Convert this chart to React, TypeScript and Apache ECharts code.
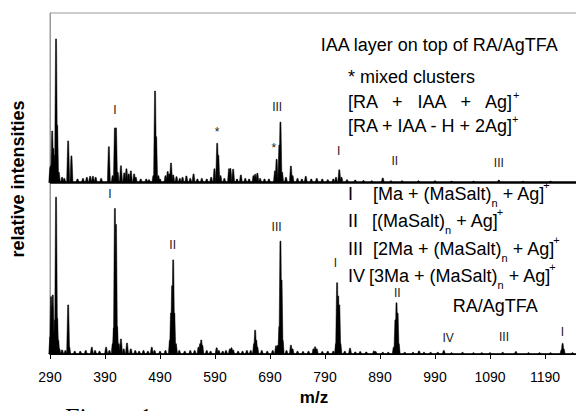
import React, { useEffect, useRef } from "react";
import * as echarts from "echarts";

const FONT = '"Liberation Sans", Arial, Helvetica, sans-serif';
const SERIF = '"Liberation Serif", "Times New Roman", serif';

const X_MIN = 290;
const X_MAX = 1250;
const xTickValues = [290, 390, 490, 590, 690, 790, 890, 990, 1090, 1190];

// vertical offset (in intensity units) of the upper spectrum
const UPPER_OFFSET = 50.3;

// Upper spectrum: IAA layer on top of RA/AgTFA  [m/z, relative intensity]
const upperPeaks: number[][] = [
  [290.5, 4.5], [292, 5], [294, 15.1], [296, 10], [299, 8], [301, 42.1], [303, 16.8], [306, 3],
  [312, 1.5], [316, 1.2], [323, 12.2], [329, 7.8], [340, 1], [350, 1.2], [357, 1.5], [363, 1.8],
  [368, 1.8], [373, 1.5], [383, 1.2], [397, 10.5], [404, 2], [408, 16], [410, 16], [413, 3],
  [419, 4.9], [425, 2.8], [429, 4], [433, 2.5], [437, 3.4], [443, 2.5], [446, 1.5], [455, 1],
  [465, 1], [470, 0.8], [478, 2], [481, 26.8], [483, 13.4], [487, 2], [490, 1], [500, 2],
  [504, 3.2], [507, 2.5], [510, 5.7], [514, 2.2], [520, 1.7], [526, 1.2], [531, 1.5], [538, 1.9],
  [545, 1.2], [551, 2.5], [558, 1], [566, 1.2], [575, 1], [583, 1.5], [589, 4], [594, 11.5],
  [596, 8], [600, 2], [607, 1.2], [615.5, 4], [618, 4.1], [623, 3.9], [630, 1], [637, 2.2],
  [645, 1.2], [652, 1], [660, 2], [663, 2.4], [667, 2.7], [672, 1.2], [680, 1], [688, 1],
  [699, 3.4], [702, 6.8], [707, 11], [709, 17.7], [712, 3], [719, 1.5], [728, 4.8], [731, 2],
  [740, 1.2], [748, 1], [755, 1.8], [765, 1], [775, 1.2], [785, 1], [795, 0.8], [805, 1],
  [810, 1.5], [816, 3.7], [820, 1.5], [830, 0.8], [845, 0.7], [860, 0.6], [875, 0.5], [895, 1.3],
  [910, 0.5], [930, 0.5], [960, 0.5], [990, 0.5], [1020, 0.4], [1060, 0.4], [1106, 0.7],
  [1150, 0.4], [1200, 0.4],
];

// Lower spectrum: RA/AgTFA  [m/z, relative intensity]
const lowerPeaks: number[][] = [
  [290.5, 5], [292, 16.8], [294, 14], [295, 17.3], [297, 6], [299, 10], [301, 46], [303, 10.5],
  [305, 4], [307, 1.5], [312, 1.2], [318, 1], [323, 14.4], [325, 2], [335, 0.8], [345, 0.8],
  [355, 1], [366, 2], [372, 1], [380, 0.8], [392, 2], [398, 1], [404, 3], [406, 7.6],
  [408, 42.7], [410, 38], [412, 8], [415, 3], [419, 4.4], [424, 1.5], [430, 3.2], [437, 1.5],
  [445, 1], [452, 0.8], [460, 1], [468, 0.8], [475, 2], [480, 1], [490, 0.8], [500, 1],
  [508, 4], [510, 12], [512, 20], [514, 27.6], [516, 12], [519, 3], [525, 1], [535, 0.8],
  [545, 1], [553, 1], [560, 2], [563, 3], [565, 4.1], [567, 2.5], [575, 1], [582, 0.8],
  [593, 1.8], [597, 1], [604, 0.8], [610, 1], [617, 1.5], [620, 1.8], [623, 1.2], [632, 0.8],
  [640, 0.8], [648, 1], [655, 1], [661, 3], [663, 7], [665, 4], [667, 2], [675, 1],
  [685, 0.8], [695, 1], [701, 2.4], [704, 2.5], [707, 8], [709, 33.1], [711, 21.7], [713, 4],
  [720, 1], [728, 2.6], [731, 1.5], [740, 0.8], [750, 0.7], [760, 0.8], [769, 1.5], [772, 2.1],
  [775, 1.5], [785, 0.7], [795, 0.8], [805, 0.8], [810, 3], [812, 20.9], [814, 17], [816, 14.4],
  [818, 3], [826, 0.8], [835.5, 1.7], [845, 0.6], [854, 0.7], [865, 0.6], [879, 0.9], [882, 0.7],
  [895, 0.5], [905, 0.5], [915, 2], [918, 10], [920, 15], [922, 12], [924, 3], [935, 0.5],
  [950, 0.5], [961, 0.9], [970, 0.5], [982, 0.5], [995, 0.5], [1006, 1], [1020, 0.4], [1040, 0.5],
  [1060, 0.4], [1075, 0.4], [1090, 0.4], [1113, 0.5], [1137, 0.7], [1160, 0.4], [1180, 0.4],
  [1200, 0.4], [1220, 1.2], [1222, 3.1], [1224, 1.5], [1240, 0.4],
];

// Peak assignment labels  [m/z, height on plot, text]
const peakLabels: (number | string)[][] = [
  [408, 71.6, "I"], [594, 65.2, "*"], [697, 60.5, "*"], [703, 72.3, "III"],
  [815, 59.6, "I"], [917, 56.7, "II"], [1106, 56, "III"],
  [399, 46.9, "I"], [513, 32.1, "II"], [702, 37.3, "III"], [809, 26.8, "I"],
  [921.5, 17.8, "II"], [1014, 4.6, "IV"], [1115.5, 4.9, "III"], [1221.5, 6.5, "I"],
];

const upperLegend = ["IAA layer on top of RA/AgTFA", "* mixed clusters", "[RA   +   IAA   +   Ag]", "[RA + IAA - H + 2Ag]"];
const lowerNumerals = ["I", "II", "III", "IV"];
const lowerFormulas = ["[Ma + (MaSalt)", "[(MaSalt)", "[2Ma + (MaSalt)", "[3Ma + (MaSalt)"];

const txt = (x: number, y: number, text: string, extra: any = {}) => ({
  type: "text",
  x,
  y,
  silent: true,
  style: {
    text,
    fontSize: 18,
    fontFamily: FONT,
    fill: "#000",
    align: "left",
    verticalAlign: "middle",
    textAlign: "left",
    textVerticalAlign: "middle",
    ...extra,
  },
});

const richStyles = (L: number) => ({
  n: { fontSize: 18, fontFamily: FONT, fill: "#000", color: "#000", lineHeight: L, verticalAlign: "middle" },
  s: { fontSize: 11, fontFamily: FONT, fill: "#000", color: "#000", lineHeight: 11, verticalAlign: "top", padding: [0, 0, 0, -2] },
  b: { fontSize: 11, fontFamily: FONT, fill: "#000", color: "#000", lineHeight: 11, verticalAlign: "bottom" },
});

export default function App() {
  const ref = useRef<HTMLDivElement>(null);
  useEffect(() => {
    if (!ref.current) return;
    const chart = echarts.init(ref.current, undefined, { renderer: "svg" });

    const renderPeak = (params: any, api: any) => {
      const mz = api.value(0);
      const h = api.value(1);
      const base = api.value(2);
      const p0 = api.coord([mz, base]);
      const p1 = api.coord([mz, base + h]);
      const hw = 1.5;
      return {
        type: "polygon",
        shape: {
          points: [
            [p0[0] - hw, p0[1]],
            [p1[0] - 0.5, p1[1]],
            [p1[0] + 0.5, p1[1]],
            [p0[0] + hw, p0[1]],
          ],
        },
        style: { fill: "#000", stroke: "#000", lineWidth: 0.5 },
      };
    };

    const renderLabel = (params: any, api: any) => {
      const p = api.coord([api.value(0), api.value(1)]);
      return {
        type: "text",
        x: p[0],
        y: p[1],
        style: {
          text: peakLabels[params.dataIndex][2],
          fill: "#222",
          fontSize: 12,
          fontFamily: FONT,
          align: "center",
          verticalAlign: "middle",
        },
      };
    };

    const lowerRich = richStyles(29);
    const upperRich = richStyles(26);

    const graphics: any[] = [
      txt(320.7, 44.5, upperLegend[0]),
      txt(348, 77, upperLegend[1]),
      txt(348, 102, `{n|${upperLegend[2]}}{s|+}`, { rich: upperRich }),
      txt(348, 126, `{n|${upperLegend[3]}}{s|+}`, { rich: upperRich }),
    ];
    const lowerYs = [193.8, 220.5, 248.8, 276.3];
    const formulaXs = [373, 372, 373, 369];
    lowerNumerals.forEach((n, i) => graphics.push(txt(348, lowerYs[i], n)));
    lowerFormulas.forEach((f, i) =>
      graphics.push(txt(formulaXs[i], lowerYs[i], `{n|${f}}{b|n}{n| + Ag]}{s|+}`, { rich: lowerRich }))
    );
    graphics.push(txt(452.7, 306.3, "RA/AgTFA"));
    graphics.push({
      type: "text",
      x: 18,
      y: 179,
      rotation: Math.PI / 2,
      silent: true,
      style: {
        text: "relative intensities",
        fontSize: 18,
        fontWeight: "bold",
        fontFamily: FONT,
        fill: "#000",
        align: "center",
        verticalAlign: "middle",
        textAlign: "center",
        textVerticalAlign: "middle",
      },
    });
    graphics.push(txt(65, 417, "Figure 1", { fontSize: 26, fontFamily: SERIF }));

    chart.setOption({
      animation: false,
      grid: {
        left: 50,
        right: 2,
        top: 13,
        bottom: 57,
        show: true,
        borderColor: "#999",
        borderWidth: 1,
        backgroundColor: "transparent",
      },
      xAxis: {
        type: "value",
        min: X_MIN,
        max: X_MAX,
        name: "m/z",
        nameLocation: "middle",
        nameGap: 33,
        nameTextStyle: { fontSize: 17, fontWeight: "bold", fontFamily: FONT, color: "#000" },
        axisLine: { show: true, lineStyle: { color: "#000", width: 1 } },
        axisTick: { show: true, customValues: xTickValues, length: 5, lineStyle: { color: "#000" } },
        axisLabel: {
          customValues: xTickValues,
          fontSize: 14,
          color: "#000",
          fontFamily: FONT,
          margin: 16,
          formatter: (v: number) => String(v),
        },
        splitLine: { show: false },
      },
      yAxis: {
        type: "value",
        min: 0,
        max: 100,
        axisLine: { show: true, lineStyle: { color: "#999" } },
        axisTick: { show: false },
        axisLabel: { show: false },
        splitLine: { show: false },
      },
      graphic: graphics,
      series: [
        {
          type: "line",
          data: [[X_MIN, 0], [X_MAX, 0]],
          symbol: "none",
          lineStyle: { color: "#000", width: 1.6 },
          silent: true,
        },
        {
          type: "line",
          data: [[X_MIN, UPPER_OFFSET], [X_MAX, UPPER_OFFSET]],
          symbol: "none",
          lineStyle: { color: "#000", width: 2.4 },
          silent: true,
        },
        {
          type: "custom",
          renderItem: renderPeak,
          data: lowerPeaks.map(([m, h]) => [m, h, 0]),
          silent: true,
        },
        {
          type: "custom",
          renderItem: renderPeak,
          data: upperPeaks.map(([m, h]) => [m, h, UPPER_OFFSET]),
          silent: true,
        },
        {
          type: "custom",
          renderItem: renderLabel,
          data: peakLabels.map(([m, y]) => [m, y]),
          silent: true,
        },
      ],
    });
    return () => chart.dispose();
  }, []);

  return (
    <div style={{ position: "fixed", left: 0, top: 0, width: 576, height: 411, overflow: "hidden", background: "#fff" }}>
      <div ref={ref} style={{ width: 580, height: 411 }} />
    </div>
  );
}
